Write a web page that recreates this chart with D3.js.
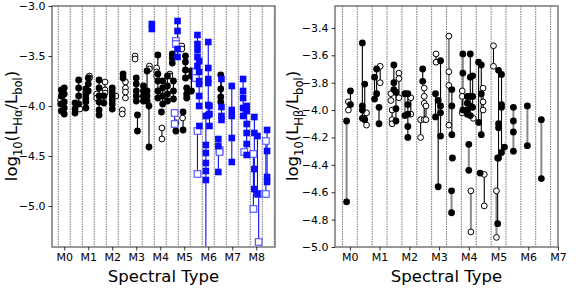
<!DOCTYPE html>
<html>
<head>
<meta charset="utf-8">
<script src="https://cdn.jsdelivr.net/npm/d3@7"></script>
<style>
  body { margin: 0; background: #fff; }
  svg { font-family: "DejaVu Sans", sans-serif; }
</style>
</head>
<body>
<svg id="chart" width="581" height="291"></svg>
<script>
// x = spectral subtype (M0 = 0), kind: f filled circle, o open circle, F blue square, O open blue square
// optional 4th item "g" = grey connecting line
const haBlack = [
  [-0.12, "f", [-3.84, -3.9, -3.98, -4.05]],
  [0.0, "f", [-3.82, -3.88, -3.96, -4.02, -4.08]],
  [-0.15, "o", [-3.94, -3.98]],
  [0.45, "f", [-3.97, -4.03, -4.07]],
  [0.6, "f", [-3.74, -3.82, -3.9, -3.98]],
  [0.65, "o", [-4.03]],
  [0.9, "f", [-3.83, -3.88, -3.92, -3.96, -4.02]],
  [1.05, "o", [-3.7, -3.72]],
  [1.0, "f", [-3.72, -3.78, -3.85]],
  [1.45, "f", [-3.74, -3.82, -3.9, -3.96, -4.04, -4.09]],
  [1.35, "o", [-3.88, -3.92]],
  [1.7, "o", [-3.76, -3.84, -3.87]],
  [1.65, "f", [-3.9, -3.97]],
  [2.0, "f", [-3.82, -3.86, -3.9, -3.94, -3.98, -4.03]],
  [2.15, "o", [-3.9]],
  [2.45, "f", [-3.68, -3.72]],
  [2.55, "o", [-3.76, -3.82, -3.86, -3.92]],
  [2.42, "o", [-4.04, -4.08]],
  [2.95, "o", [-3.5, -3.53]],
  [3.0, "f", [-3.72, -3.78, -3.85, -3.9, -3.95]],
  [3.05, "f", [-4.09, -4.25]],
  [3.1, "o", [-3.93]],
  [3.3, "f", [-3.8, -3.85, -3.9, -3.95]],
  [3.45, "f", [-3.65, -3.85, -3.9, -3.95]],
  [3.53, "f", [-4.0, -4.41]],
  [3.55, "o", [-3.6, -3.63]],
  [3.85, "o", [-3.62, -3.66, -3.7]],
  [3.9, "f", [-3.49, -3.68, -3.75, -3.85, -3.92]],
  [4.1, "f", [-3.75, -3.82, -3.9, -3.98]],
  [4.07, "o", [-4.22, -4.33]],
  [4.05, "f", [-4.06]],
  [4.3, "f", [-3.7, -3.8, -3.88, -3.95]],
  [4.5, "f", [-3.48, -3.52, -3.57]],
  [4.55, "f", [-3.75, -3.85, -3.93]],
  [4.4, "o", [-3.68, -3.7]],
  [4.9, "o", [-3.4, -3.43]],
  [4.65, "f", [-4.17, -4.25]],
  [4.95, "f", [-4.06, -4.24]],
  [4.93, "o", [-4.12]],
  [5.05, "f", [-3.5, -3.56, -3.64, -3.72]],
  [5.1, "f", [-3.82, -3.88, -3.92]],
  [5.3, "f", [-3.65, -3.7, -3.85]],
  [6.52, "f", [-3.69, -3.83, -3.91, -3.96]]
];

const haBlue = [
  [3.65, "F", [-3.18, -3.23]],
  [4.65, "O", [-3.35, -3.38]],
  [4.72, "F", [-3.15, -3.25, -3.43, -3.51]],
  [4.6, "O", [-4.07, -4.18]],
  [5.55, "F", [-3.29, -3.38, -3.44, -3.51, -3.6]],
  [5.62, "F", [-3.55, -3.66, -3.75, -3.78, -3.9, -4.0]],
  [5.48, "O", [-3.66, -3.72]],
  [5.55, "O", [-4.25, -4.68]],
  [5.63, "F", [-4.2]],
  [5.9, "F", [-4.1, -4.39, -4.47, -4.57, -4.65, -4.74, -5.7]],
  [6.0, "F", [-3.36, -3.62, -3.73, -3.77, -3.99, -4.09]],
  [6.05, "F", [-4.0, -4.08, -4.2]],
  [6.42, "F", [-4.33, -4.4, -4.66]],
  [6.47, "O", [-4.44, -4.46]],
  [6.55, "F", [-3.73, -4.01, -4.1, -4.14]],
  [6.98, "F", [-3.8, -4.04, -4.1, -4.32, -4.56]],
  [7.45, "F", [-3.73, -3.85, -3.92, -4.02, -4.1]],
  [7.6, "F", [-4.0, -4.05, -4.18, -4.27, -4.38, -4.49]],
  [7.5, "O", [-4.46]],
  [7.92, "F", [-4.11, -4.27, -4.63, -4.83]],
  [7.88, "O", [-4.48, -5.03]],
  [8.1, "O", [-4.88, -5.36]],
  [8.05, "F", [-4.3, -4.88]],
  [8.45, "F", [-4.24, -4.45, -4.71, -4.76]],
  [8.4, "O", [-4.35, -4.88]]
];

const hbGroups = [
  [-0.11, "f", [-4.08, -4.67], "g"],
  [-0.05, "o", [-3.94, -4.0]],
  [0.02, "f", [-3.86, -3.96]],
  [0.42, "f", [-3.51, -3.97, -4.0, -4.06]],
  [0.5, "f", [-3.81, -4.07]],
  [0.56, "o", [-4.02, -4.11]],
  [0.83, "f", [-3.76, -3.92]],
  [0.9, "f", [-3.7, -3.88]],
  [0.98, "f", [-3.98, -4.1]],
  [1.02, "o", [-3.68, -3.8]],
  [1.38, "o", [-3.88, -3.93]],
  [1.42, "o", [-4.0, -4.07, -4.1]],
  [1.48, "f", [-3.67, -3.8, -3.85]],
  [1.55, "f", [-3.87, -3.99, -4.08]],
  [1.65, "o", [-3.73, -3.77, -3.91]],
  [1.85, "f", [-3.88, -4.04], "g"],
  [1.95, "f", [-3.88, -3.96, -4.03, -4.12, -4.2]],
  [2.05, "o", [-3.91, -4.03]],
  [2.38, "o", [-4.07, -4.2]],
  [2.45, "f", [-3.7, -3.79]],
  [2.5, "o", [-3.84, -3.9, -3.95, -4.07]],
  [2.56, "o", [-3.97, -4.07]],
  [2.9, "o", [-3.59, -3.65]],
  [2.88, "f", [-3.88, -4.05]],
  [2.97, "f", [-3.93, -4.56]],
  [3.05, "f", [-3.64, -3.97, -4.02, -4.19]],
  [3.33, "o", [-3.46, -3.72, -3.82, -4.11], "g"],
  [3.43, "f", [-3.85, -3.97, -4.18]],
  [3.45, "f", [-4.35]],
  [3.42, "f", [-4.59, -4.75], "g"],
  [3.8, "f", [-3.59, -3.73, -4.0], "g"],
  [3.78, "o", [-3.86, -3.9, -4.02]],
  [3.95, "f", [-3.9, -3.95, -4.0, -4.03]],
  [4.05, "f", [-3.59, -3.76, -3.9, -3.97, -4.04]],
  [4.0, "f", [-4.25, -4.44], "g"],
  [4.07, "o", [-4.59, -4.89], "g"],
  [4.13, "f", [-3.75, -3.9, -3.98]],
  [4.15, "o", [-4.06]],
  [4.33, "f", [-3.65, -4.09]],
  [4.42, "f", [-3.67, -3.88, -4.18]],
  [4.38, "f", [-4.46]],
  [4.48, "o", [-3.84, -3.94, -4.0]],
  [4.52, "o", [-4.47, -4.7]],
  [4.83, "o", [-3.53, -3.68]],
  [5.0, "f", [-3.71, -4.1, -4.13, -4.35]],
  [5.1, "f", [-3.74, -3.96, -3.98, -4.31]],
  [4.93, "o", [-4.59, -4.93], "g"],
  [4.97, "f", [-4.35, -4.83]],
  [5.2, "f", [-4.27]],
  [5.5, "f", [-3.98, -4.08, -4.16, -4.3], "g"],
  [5.97, "f", [-3.97, -4.26], "g"],
  [6.44, "f", [-4.07, -4.5], "g"]
];

const haTicksY = [-3.0, -3.5, -4.0, -4.5, -5.0];
const hbTicksY = [-3.4, -3.6, -3.8, -4.0, -4.2, -4.4, -4.6, -4.8, -5.0];
const haTypes = ["M0", "M1", "M2", "M3", "M4", "M5", "M6", "M7", "M8"];
const hbTypes = ["M0", "M1", "M2", "M3", "M4", "M5", "M6", "M7"];

const svg = d3.select("#chart");
const blue = "#0a0aff";
const fmt = d3.format(".1f");

function panel(opts) {
    const x = d3.scaleLinear().domain(opts.xDomain).range(opts.xRange);
    const y = d3.scaleLinear().domain(opts.yDomain).range([247, 6]);
    const g = svg.append("g");

    const clipId = "clip" + opts.id;
    svg.append("clipPath").attr("id", clipId)
        .append("rect")
        .attr("x", opts.xRange[0]).attr("y", 6)
        .attr("width", opts.xRange[1] - opts.xRange[0]).attr("height", 241);

    // dotted grid lines between the subtypes
    const grid = d3.range(Math.ceil(opts.xDomain[0] * 2) / 2 - 0.25, opts.xDomain[1], 0.5)
        .filter(v => v > opts.xDomain[0] && v < opts.xDomain[1]);
    g.selectAll(".grid").data(grid).enter().append("line")
        .attr("x1", d => x(d)).attr("x2", d => x(d))
        .attr("y1", 6).attr("y2", 247)
        .style("stroke", "#666")
        .style("stroke-width", 0.9)
        .style("stroke-dasharray", "1.5,1");

    const plot = g.append("g").attr("clip-path", `url(#${clipId})`);
    const groups = opts.groups.map(d => ({ x: d[0], kind: d[1], v: d[2], grey: d[3] === "g" }));

    // connecting lines
    plot.selectAll(".link").data(groups.filter(d => d.v.length > 1)).enter().append("line")
        .attr("x1", d => x(d.x)).attr("x2", d => x(d.x))
        .attr("y1", d => y(d3.max(d.v))).attr("y2", d => y(d3.min(d.v)))
        .style("stroke", d => d.grey ? "#8a8a8a" : (d.kind === "F" || d.kind === "O") ? blue : "#000")
        .style("stroke-width", d => d.grey ? 2 : 1.1);

    const pts = [];
    groups.forEach(d => d.v.forEach(v => pts.push({ x: d.x, y: v, kind: d.kind })));
    const order = { o: 0, f: 1, O: 2, F: 3 };
    pts.sort((a, b) => order[a.kind] - order[b.kind]);

    plot.selectAll(".circ").data(pts.filter(p => p.kind === "f" || p.kind === "o")).enter().append("circle")
        .attr("cx", d => x(d.x)).attr("cy", d => y(d.y))
        .attr("r", d => d.kind === "f" ? 3.4 : 2.9)
        .style("fill", d => d.kind === "f" ? "#000" : "#fff")
        .style("stroke", "#000")
        .style("stroke-width", d => d.kind === "f" ? 0 : 1);

    plot.selectAll(".sq").data(pts.filter(p => p.kind === "F" || p.kind === "O")).enter().append("rect")
        .attr("x", d => x(d.x) - 3.3).attr("y", d => y(d.y) - 3.3)
        .attr("width", 6.6).attr("height", 6.6)
        .style("fill", d => d.kind === "F" ? blue : "#fff")
        .style("stroke", d => d.kind === "F" ? blue : "#5a5aff")
        .style("stroke-width", d => d.kind === "F" ? 0 : 1.2);

    // frame
    g.append("rect")
        .attr("x", opts.xRange[0]).attr("y", 6)
        .attr("width", opts.xRange[1] - opts.xRange[0]).attr("height", 241)
        .style("fill", "none").style("stroke", "#6e6e6e").style("stroke-width", 1.4);

    const xAxis = g.append("g").attr("transform", "translate(0,247)")
        .call(d3.axisBottom(x).tickValues(d3.range(opts.types.length)).tickFormat(i => opts.types[i]).tickSize(3.5).tickPadding(3));
    const yAxis = g.append("g").attr("transform", `translate(${opts.xRange[0]},0)`)
        .call(d3.axisLeft(y).tickValues(opts.yTicks).tickFormat(fmt).tickSize(3.5).tickPadding(3));
    [xAxis, yAxis].forEach(a => {
        a.select(".domain").remove();
        a.selectAll("text").style("font-size", "11px").style("font-family", "DejaVu Sans").style("fill", "#000");
        a.selectAll("line").style("stroke", "#000").style("stroke-width", 0.8);
    });

    g.append("text")
        .attr("x", (opts.xRange[0] + opts.xRange[1]) / 2).attr("y", 282)
        .attr("text-anchor", "middle")
        .style("font-size", "16.5px")
        .text("Spectral Type");

    const yl = g.append("text")
        .attr("transform", `translate(${opts.yLabelX},126) rotate(-90)`)
        .attr("text-anchor", "middle")
        .style("font-size", "16.5px");
    yl.append("tspan").text("log");
    yl.append("tspan").attr("dy", 4.5).style("font-size", "11.5px").text("10");
    yl.append("tspan").attr("dy", -4.5).text("(L");
    yl.append("tspan").attr("dy", 4.5).style("font-size", "11.5px").text(opts.line);
    yl.append("tspan").attr("dy", -4.5).text("/L");
    yl.append("tspan").attr("dy", 4.5).style("font-size", "11.5px").text("bol");
    yl.append("tspan").attr("dy", -4.5).text(")");
}

panel({
    id: "a", groups: haBlack.concat(haBlue),
    xDomain: [-0.51, 8.78], xRange: [52, 275],
    yDomain: [-5.41, -3.0], yTicks: haTicksY, types: haTypes,
    yLabelX: 17, line: "Hα"
});

panel({
    id: "b", groups: hbGroups,
    xDomain: [-0.5, 7.0], xRange: [335, 558],
    yDomain: [-5.0, -3.24], yTicks: hbTicksY, types: hbTypes,
    yLabelX: 298, line: "Hβ"
});
</script>
</body>
</html>
